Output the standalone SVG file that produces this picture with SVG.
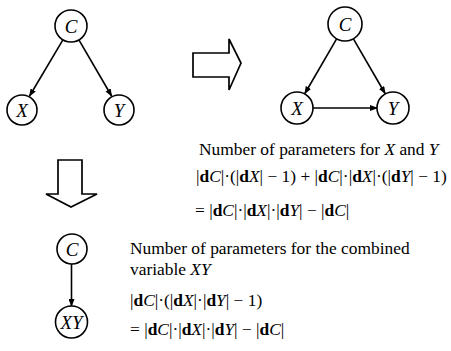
<svg xmlns="http://www.w3.org/2000/svg" width="451" height="351" viewBox="0 0 451 351">
<style>
.node circle{fill:#fff;stroke:#000;stroke-width:1.6}
.lbl{font-family:"Liberation Serif",serif;font-style:italic;font-size:19px;text-anchor:middle}
.edge{stroke:#000;stroke-width:1.6;fill:none;marker-end:url(#ah)}
.big{fill:#fff;stroke:#000;stroke-width:1.7;stroke-linejoin:miter}
.t{font-family:"Liberation Serif",serif;font-size:17.4px;fill:#000}
.b{font-weight:bold}
.i{font-style:italic}
</style>
<defs>
<marker id="ah" markerUnits="userSpaceOnUse" markerWidth="8" markerHeight="6" refX="7" refY="3" orient="auto">
<path d="M0,0 L8,3 L0,6 z" fill="#000"/>
</marker>
</defs>
<g id="connectors">
<line class="edge" x1="62.9" y1="39.8" x2="29.6" y2="96"/>
<line class="edge" x1="78.9" y1="39.9" x2="111.6" y2="96"/>
<line class="edge" x1="336.6" y1="38.8" x2="304.9" y2="93.5"/>
<line class="edge" x1="353.4" y1="38.8" x2="385.1" y2="93.5"/>
<line class="edge" x1="313" y1="108" x2="377" y2="108"/>
<line class="edge" x1="71.5" y1="264" x2="71.5" y2="306"/>
</g>
<g id="arrow-right"><polygon class="big" points="193,53 229,53 229,39 241,63 229,90 229,77 193,77"/></g>
<g id="arrow-down"><polygon class="big" points="58,160 82,160 82,194 97,194 71,207 46,194 58,194"/></g>
<g id="node-C1" class="node"><circle cx="71" cy="26" r="16"/><text class="lbl" x="71" y="32.5">C</text></g>
<g id="node-X1" class="node"><circle cx="22" cy="110" r="15"/><text class="lbl" x="22" y="116.5">X</text></g>
<g id="node-Y1" class="node"><circle cx="119" cy="110" r="15"/><text class="lbl" x="119" y="116.5">Y</text></g>
<g id="node-C2" class="node"><circle cx="345" cy="24" r="17"/><text class="lbl" x="345" y="30.5">C</text></g>
<g id="node-X2" class="node"><circle cx="297" cy="108" r="16"/><text class="lbl" x="297" y="114.5">X</text></g>
<g id="node-Y2" class="node"><circle cx="393" cy="108" r="16"/><text class="lbl" x="393" y="114.5">Y</text></g>
<g id="node-C3" class="node"><circle cx="72" cy="249" r="15"/><text class="lbl" x="72" y="255.5">C</text></g>
<g id="node-XY" class="node"><circle cx="71.5" cy="322" r="16"/><text class="lbl" x="71.5" y="328.5">XY</text></g>
<g id="text-top">
<text class="t" x="199" y="155">Number of parameters for <tspan class="i">X</tspan> and <tspan class="i">Y</tspan></text>
<text class="t" x="196" y="182">|<tspan class="b">d</tspan><tspan class="i">C</tspan>|·(|<tspan class="b">d</tspan><tspan class="i">X</tspan>| − 1) + |<tspan class="b">d</tspan><tspan class="i">C</tspan>|·|<tspan class="b">d</tspan><tspan class="i">X</tspan>|·(|<tspan class="b">d</tspan><tspan class="i">Y</tspan>| − 1)</text>
<text class="t" x="195" y="216">= |<tspan class="b">d</tspan><tspan class="i">C</tspan>|·|<tspan class="b">d</tspan><tspan class="i">X</tspan>|·|<tspan class="b">d</tspan><tspan class="i">Y</tspan>| − |<tspan class="b">d</tspan><tspan class="i">C</tspan>|</text>
</g>
<g id="text-bottom">
<text class="t" x="130" y="254">Number of parameters for the combined</text>
<text class="t" x="130" y="275">variable <tspan class="i">XY</tspan></text>
<text class="t" x="130" y="306">|<tspan class="b">d</tspan><tspan class="i">C</tspan>|·(|<tspan class="b">d</tspan><tspan class="i">X</tspan>|·|<tspan class="b">d</tspan><tspan class="i">Y</tspan>| − 1)</text>
<text class="t" x="130" y="335">= |<tspan class="b">d</tspan><tspan class="i">C</tspan>|·|<tspan class="b">d</tspan><tspan class="i">X</tspan>|·|<tspan class="b">d</tspan><tspan class="i">Y</tspan>| − |<tspan class="b">d</tspan><tspan class="i">C</tspan>|</text>
</g>
</svg>
